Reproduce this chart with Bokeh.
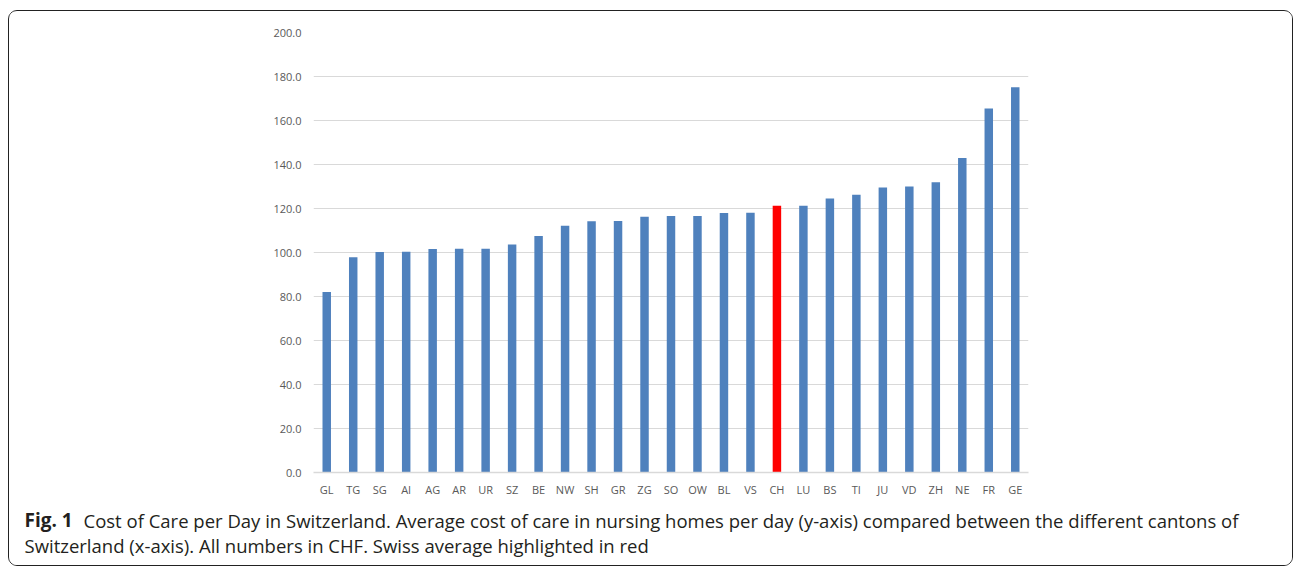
from bokeh.plotting import figure
from bokeh.layouts import column
from bokeh.models import Range1d, FactorRange, ColumnDataSource, FixedTicker, NumeralTickFormatter
from bokeh.core.properties import value
from bokeh.embed import file_html
from bokeh.resources import INLINE

# ---- data ----
cantons = ["GL", "TG", "SG", "AI", "AG", "AR", "UR", "SZ", "BE", "NW", "SH", "GR", "ZG", "SO",
           "OW", "BL", "VS", "CH", "LU", "BS", "TI", "JU", "VD", "ZH", "NE", "FR", "GE"]
cost_per_day = [82.0, 97.8, 100.2, 100.3, 101.6, 101.7, 101.7, 103.6, 107.5, 112.2, 114.2,
                114.3, 116.2, 116.6, 116.6, 118.0, 118.1, 121.3, 121.3, 124.6, 126.2, 129.5,
                130.0, 131.9, 143.0, 165.5, 175.1]
highlight = "CH"
y_ticks = [0, 20, 40, 60, 80, 100, 120, 140, 160, 180, 200]
caption_bold = "Fig. 1"
caption_line1 = ("Cost of Care per Day in Switzerland. Average cost of care in nursing homes per day "
                 "(y-axis) compared between the different cantons of")
caption_line2 = "Switzerland (x-axis). All numbers in CHF. Swiss average highlighted in red"

# ---- styles ----
BLUE = "#4F81BD"
RED = "#FF0000"
GRID = "#D9D9D9"
TICK_TXT = "#595959"
CAP_TXT = "#231F20"
FONT = "Open Sans"

W = 1283          # inner width of the framed box
H_CHART = 490
H_CAP = 64

colors = [RED if c == highlight else BLUE for c in cantons]
src = ColumnDataSource(dict(canton=cantons, cost=cost_per_day, color=colors))

# ---- chart ----
p = figure(width=W, height=H_CHART, x_range=FactorRange(*cantons), y_range=Range1d(0, 200),
           output_backend="svg", toolbar_location=None,
           min_border_left=304, min_border_right=264, min_border_top=21, min_border_bottom=29)
p.outline_line_color = None
p.background_fill_color = "white"
p.border_fill_color = "white"

p.vbar(x="canton", top="cost", width=0.32, fill_color="color", line_color=None, source=src)

yax = p.yaxis[0]
yax.ticker = FixedTicker(ticks=y_ticks)
yax.formatter = NumeralTickFormatter(format="0.0")
yax.axis_line_color = None
yax.major_tick_line_color = None
yax.minor_tick_line_color = None
yax.major_tick_out = 0
yax.major_tick_in = 0
yax.major_label_standoff = 12
yax.major_label_text_font = FONT
yax.major_label_text_font_size = "11px"
yax.major_label_text_color = TICK_TXT

xax = p.xaxis[0]
xax.axis_line_color = GRID
xax.axis_line_width = 1.5
xax.major_tick_line_color = None
xax.minor_tick_line_color = None
xax.major_tick_out = 0
xax.major_tick_in = 0
xax.major_label_standoff = 9
xax.major_label_text_font = FONT
xax.major_label_text_font_size = "11px"
xax.major_label_text_color = TICK_TXT

p.xgrid.grid_line_color = None
p.ygrid.grid_line_color = GRID
p.ygrid.grid_line_width = 1.2
p.ygrid.ticker = FixedTicker(ticks=y_ticks)

# ---- caption (pixel coordinates inside its own figure) ----
c = figure(width=W, height=H_CAP, x_range=Range1d(0, W), y_range=Range1d(H_CAP, 0),
           output_backend="svg", toolbar_location=None, min_border=0,
           x_axis_type=None, y_axis_type=None)
c.outline_line_color = None
c.xgrid.visible = False
c.ygrid.visible = False
c.background_fill_color = "white"
c.border_fill_color = "white"

cap_size = value("18.5px")
c.text(x=[15], y=[18.5], text=[caption_bold], text_font=value(FONT), text_font_style="bold",
       text_font_size=value("19px"), text_color=CAP_TXT, text_baseline="alphabetic")
c.text(x=[74], y=[18.5], text=[caption_line1], text_font=value(FONT),
       text_font_size=cap_size, text_color=CAP_TXT, text_baseline="alphabetic")
c.text(x=[15], y=[43.5], text=[caption_line2], text_font=value(FONT),
       text_font_size=cap_size, text_color=CAP_TXT, text_baseline="alphabetic")

layout = column(p, column(c, margin=0), margin=(10, 0, 0, 8), spacing=0,
                styles={"border": "1.6px solid #222222", "border-radius": "9px",
                        "overflow": "hidden"})

open("out.html", "w").write(file_html(layout, INLINE))
